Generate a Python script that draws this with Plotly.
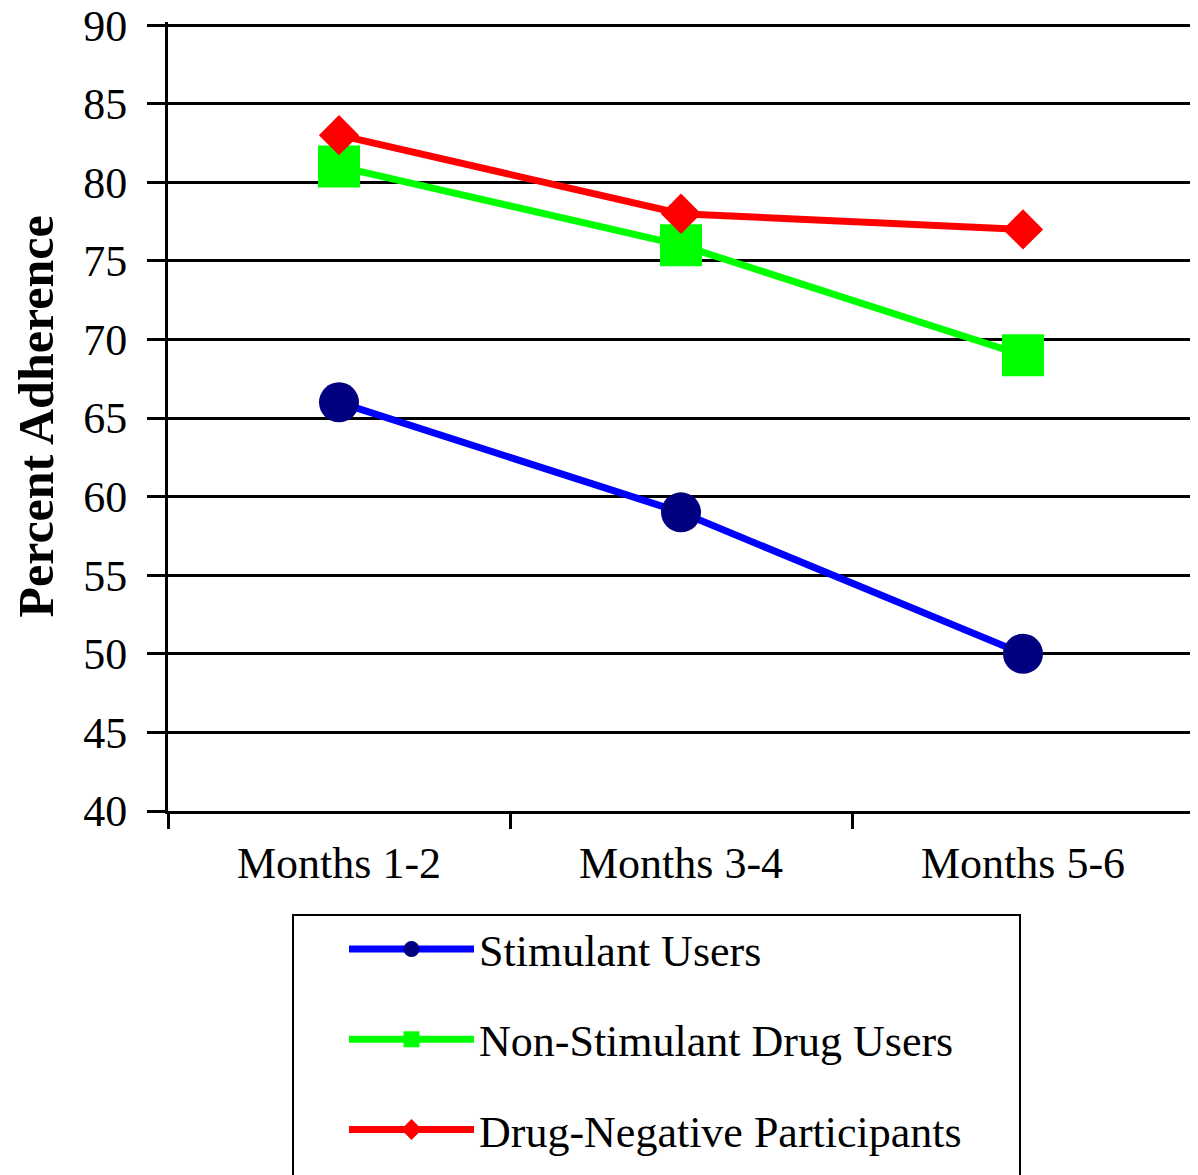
import plotly.graph_objects as go

categories = ["Months 1-2", "Months 3-4", "Months 5-6"]
stimulant = [66, 59, 50]
non_stimulant = [81, 76, 69]
drug_negative = [83, 78, 77]
y_ticks = [40, 45, 50, 55, 60, 65, 70, 75, 80, 85, 90]

FONT = "Liberation Serif, Times New Roman, serif"

# figure geometry (page has an 8px body margin)
W, H = 1190, 1167
L, R, T, B = 160, 4, 14, 364
PW, PH = W - L - R, H - T - B


def px(xf):
    return (xf - L) / PW


def py(yf):
    return (H - B - yf) / PH


fig = go.Figure()
fig.add_trace(go.Scatter(
    x=categories, y=stimulant, name="Stimulant Users", mode="lines+markers",
    line=dict(color="#0000FF", width=7),
    marker=dict(symbol="circle", size=40, color="#000080"),
    legendgroup="a"))
fig.add_trace(go.Scatter(
    x=categories, y=non_stimulant, name="Non-Stimulant Drug Users", mode="lines+markers",
    line=dict(color="#00FF00", width=7),
    marker=dict(symbol="square", size=42, color="#00FF00"),
    legendgroup="b"))
fig.add_trace(go.Scatter(
    x=categories, y=drug_negative, name="Drug-Negative Participants", mode="lines+markers",
    line=dict(color="#FF0000", width=7),
    marker=dict(symbol="diamond", size=31, color="#FF0000"),
    legendgroup="c"))

fig.update_layout(
    width=W, height=H,
    margin=dict(l=L, r=R, t=T, b=B, autoexpand=False),
    paper_bgcolor="white", plot_bgcolor="white",
    font=dict(family=FONT, size=44, color="black"),
    showlegend=True,
    legend=dict(
        x=px(336), y=py(906), xanchor="left", yanchor="top",
        borderwidth=0, bgcolor="rgba(0,0,0,0)",
        font=dict(family=FONT, size=44, color="black"),
        tracegroupgap=30, itemwidth=125,
    ),
    shapes=[dict(
        type="rect", xref="paper", yref="paper",
        x0=px(285), x1=px(1012), y0=py(907), y1=py(1200),
        line=dict(color="black", width=2), fillcolor="rgba(0,0,0,0)", layer="below",
    )],
)
fig.update_xaxes(
    type="category", categoryorder="array", categoryarray=categories,
    range=[-0.5, 2.5], showgrid=False, automargin=False,
    showline=True, linecolor="black", linewidth=3,
    ticks="outside", tickson="boundaries", ticklen=15, tickwidth=3, tickcolor="black",
    ticklabelstandoff=11,
    tickfont=dict(family=FONT, size=44, color="black"),
)
fig.update_yaxes(
    range=[40, 90.2], tickvals=y_ticks, showgrid=True, gridcolor="black", gridwidth=3,
    automargin=False,
    showline=True, linecolor="black", linewidth=3, zeroline=False,
    ticks="outside", ticklen=18, tickwidth=3, tickcolor="black",
    ticklabelstandoff=11, ticklabeloverflow="allow",
    tickfont=dict(family=FONT, size=44, color="black"),
    title=dict(text="<b>Percent Adherence</b>", font=dict(family=FONT, size=50, color="black"), standoff=24),
)

fig.write_html(
    "out.html",
    post_script="document.querySelectorAll('svg.main-svg').forEach(function(s){s.style.overflow='visible';});",
)
